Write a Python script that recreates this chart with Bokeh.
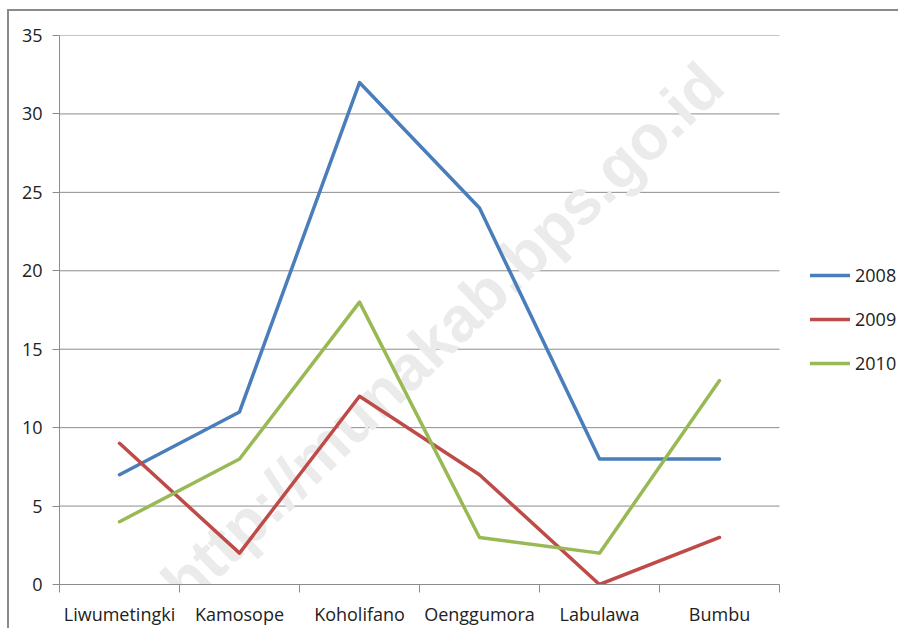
from bokeh.plotting import figure
from bokeh.models import FixedTicker, Legend, LegendItem, Range1d
from bokeh.core.properties import value
from bokeh.embed import file_html
from bokeh.resources import INLINE

categories = ["Liwumetingki", "Kamosope", "Koholifano", "Oenggumora", "Labulawa", "Bumbu"]
series_names = ["2008", "2009", "2010"]
values_2008 = [7, 11, 32, 24, 8, 8]
values_2009 = [9, 2, 12, 7, 0, 3]
values_2010 = [4, 8, 18, 3, 2, 13]
y_ticks = [0, 5, 10, 15, 20, 25, 30, 35]
colors = ["#4A7EBB", "#BE4B48", "#98B954"]
watermark = "http://munakab.bps.go.id"

FONT = "Open Sans"
GRID = "#8c8c8c"
TXT = "#222222"

n = len(categories)
xs = [i + 0.5 for i in range(n)]
PLOT_W = 720.0
FRAME_W = 839

p = figure(width=889, height=615, output_backend="svg", toolbar_location=None,
           x_range=Range1d(0, n * FRAME_W / PLOT_W), y_range=Range1d(0, 35),
           frame_width=FRAME_W, frame_height=549,
           min_border_left=50, min_border_right=0, min_border_top=24, min_border_bottom=42)
p.outline_line_color = None
p.background_fill_color = "white"
p.border_fill_color = "white"
p.styles = {"margin-left": "7px", "margin-top": "9px",
            "border-left": "2px solid #8a8a8a", "border-top": "2px solid #8a8a8a"}

# gridlines (drawn only over the category span)
p.segment(x0=[0] * len(y_ticks), x1=[n] * len(y_ticks), y0=y_ticks, y1=y_ticks,
          line_color=GRID, line_width=1)

# watermark, above gridlines, below the series
p.text(x=[3.19], y=[16.0], text=[watermark], angle=0.765,
       text_align="center", text_baseline="middle",
       text_font=value("Liberation Sans"), text_font_style="bold", text_font_size="63px",
       text_color="#ebebeb")

# axes
xa = p.xaxis[0]
xa.bounds = (0, n)
xa.ticker = FixedTicker(ticks=xs, minor_ticks=list(range(n + 1)))
xa.major_label_overrides = {x: c for x, c in zip(xs, categories)}
xa.major_tick_line_color = None
xa.major_tick_out = 0
xa.major_tick_in = 0
xa.minor_tick_line_color = GRID
xa.minor_tick_out = 8
xa.minor_tick_in = 0
xa.axis_line_color = GRID
xa.major_label_standoff = 9
xa.major_label_text_font = FONT
xa.major_label_text_font_size = "18px"
xa.major_label_text_color = TXT

ya = p.yaxis[0]
ya.ticker = FixedTicker(ticks=y_ticks)
ya.minor_tick_line_color = None
ya.major_tick_line_color = GRID
ya.major_tick_out = 7
ya.major_tick_in = 0
ya.axis_line_color = GRID
ya.major_label_standoff = 10
ya.major_label_text_font = FONT
ya.major_label_text_font_size = "18px"
ya.major_label_text_color = TXT

p.xgrid.visible = False
p.ygrid.visible = False

renderers = []
for vals, c in zip([values_2008, values_2009, values_2010], colors):
    r = p.line(xs, vals, line_color=c, line_width=3.5, line_join="round", line_cap="round")
    renderers.append(r)

legend = Legend(items=[LegendItem(label=s, renderers=[r]) for s, r in zip(series_names, renderers)],
                location=(751, 209), glyph_width=40, glyph_height=20, label_height=20,
                spacing=20, padding=0, margin=0, label_standoff=5,
                label_text_font=FONT, label_text_font_size="18px", label_text_color=TXT,
                border_line_color=None, background_fill_alpha=0)
p.add_layout(legend)

open("out.html", "w").write(file_html(p, INLINE))
